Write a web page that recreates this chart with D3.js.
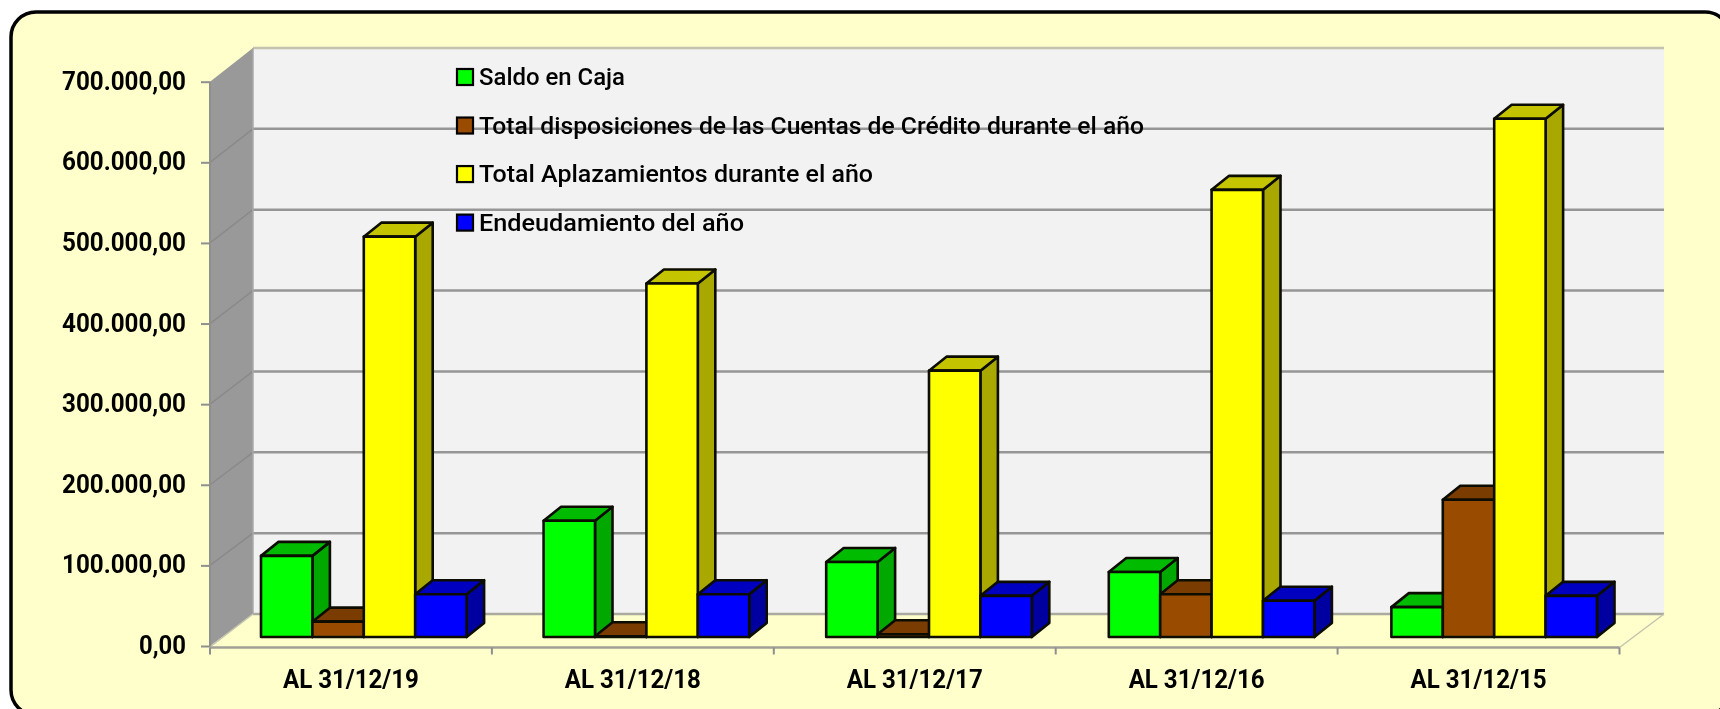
<!DOCTYPE html>
<html lang="es">
<head>
<meta charset="utf-8">
<script src="https://cdn.jsdelivr.net/npm/d3@7/dist/d3.min.js"></script>
<style>
html,body{margin:0;padding:0;background:#fff;overflow:hidden}
svg{display:block;filter:blur(0.5px)}
text{font-family:Roboto,"Noto Sans",sans-serif;fill:#000}
</style>
</head>
<body>
<svg id="chart" width="1720" height="709"></svg>
<script>
const categories = ["AL 31/12/19","AL 31/12/18","AL 31/12/17","AL 31/12/16","AL 31/12/15"];
const seriesNames = ["Saldo en Caja","Total disposiciones de las Cuentas de Crédito durante el año","Total Aplazamientos durante el año","Endeudamiento del año"];
const saldoCaja = [100500,144000,93000,80500,37000];
const disposiciones = [19000,1000,3500,53000,170000];
const aplazamientos = [496000,438000,330000,554000,642000];
const endeudamiento = [53000,53000,51000,45000,51000];
const yTicks = [0,100000,200000,300000,400000,500000,600000,700000];
const front = ["#00ff00","#994c00","#ffff00","#0000ff"];
const topC = ["#00bb00","#7a3c00","#c4c400","#0000c0"];
const sideC = ["#00a800","#6e3600","#a8a800","#0000a0"];

const series = [saldoCaja,disposiciones,aplazamientos,endeudamiento];
const svg = d3.select("#chart");
const frameFill = "#ffffcc";
svg.append("rect").attr("x",11).attr("y",12).attr("width",1719).attr("height",703).attr("rx",25)
  .attr("fill",frameFill).attr("stroke","#000").attr("stroke-width",3.5);

// Planes
const yFront = d3.scaleLinear().domain([0,700000]).range([646,81.7]);
const yBack = d3.scaleLinear().domain([0,700000]).range([614,48]);
const yBar = d3.scaleLinear().domain([0,700000]).range([637,72]);
const xAxisScale = d3.scaleBand().domain(categories).range([210,1619.5]);
const xBars = d3.scaleBand().domain(categories).range([261,261+5*282.6]);
const barW = d3.scaleBand().domain(d3.range(4)).range([0,205.6]);
const wallDx = 43, barDx = 17.5, barDy = 14;
const poly = pts => pts.map(p=>p.join(",")).join(" ");
const [xL,xR] = xAxisScale.range();

svg.append("polygon").attr("fill","#f2f2f2")
  .attr("points",poly([[xL+wallDx,yBack(700000)],[1664,yBack(700000)],[1664,yBack(0)],[xL+wallDx,yBack(0)]]));
svg.append("polygon").attr("fill","#999999")
  .attr("points",poly([[xL,yFront(700000)],[xL+wallDx,yBack(700000)],[xL+wallDx,yBack(0)],[xL,yFront(0)]]));
svg.append("polygon").attr("fill",frameFill)
  .attr("points",poly([[xL,yFront(0)+1.5],[xL+wallDx,yBack(0)],[1664,yBack(0)],[xR,yFront(0)+1.5]]));

// Gridlines on the back wall and left wall
const grid = svg.append("g");
grid.selectAll("line.back").data(yTicks).join("line").attr("class","back")
  .attr("x1",xL+wallDx).attr("x2",1664).attr("y1",d=>yBack(d)).attr("y2",d=>yBack(d))
  .attr("stroke",d=>d===700000?"#c4c4ae":d===0?"#aaaaa0":"#969696").attr("stroke-width",2.5);
grid.selectAll("line.side").data(yTicks.filter(d=>d>0&&d<700000)).join("line").attr("class","side")
  .attr("x1",xL).attr("x2",xL+wallDx).attr("y1",d=>yFront(d)).attr("y2",d=>yBack(d))
  .attr("stroke","#8a8a8a").attr("stroke-width",1.5);
svg.append("line").attr("x1",xL+wallDx).attr("x2",xL+wallDx).attr("y1",yBack(700000)).attr("y2",yBack(0))
  .attr("stroke","#aaaaaa").attr("stroke-width",1.5);
svg.append("line").attr("x1",xL).attr("x2",xL+wallDx).attr("y1",yFront(0)+1).attr("y2",yBack(0))
  .attr("stroke","#c4c4ae").attr("stroke-width",1.5);
svg.append("line").attr("x1",xR).attr("x2",1664).attr("y1",yFront(0)+1.5).attr("y2",yBack(0))
  .attr("stroke","#c4c4ae").attr("stroke-width",1.5);

// Y axis
const fmt = d3.formatLocale({decimal:",",thousands:".",grouping:[3],currency:["","€"]}).format(",.2f");
const yAxis = svg.append("g").attr("transform",`translate(${xL},0)`)
  .call(d3.axisLeft(yFront).tickValues(yTicks).tickFormat(fmt).tickSize(9).tickPadding(15));
yAxis.select(".domain").attr("stroke","#8f8f8f").attr("stroke-width",2).attr("d",`M0,${yFront(700000)}V${yFront(0)}`);
yAxis.selectAll(".tick line").attr("stroke","#8f8f8f").attr("stroke-width",2);
yAxis.selectAll(".tick text").attr("dy","7.5px")
  .attr("textLength",d=>d===0?47:124).attr("lengthAdjust","spacingAndGlyphs")
  .style("font-size","25px").style("font-weight",700);

// X axis
const xAxis = svg.append("g").attr("transform",`translate(0,${yFront(0)+1.5})`)
  .call(d3.axisBottom(xAxisScale).tickSize(0).tickPadding(25));
xAxis.select(".domain").attr("stroke","#a0a098").attr("stroke-width",2.5).attr("d",`M${xL},0H${xR}`);
xAxis.selectAll(".tick text").attr("dy","15.5px")
  .attr("textLength",136).attr("lengthAdjust","spacingAndGlyphs")
  .style("font-size","25px").style("font-weight",700);
xAxis.selectAll("line.boundary").data(d3.range(categories.length+1)).join("line").attr("class","boundary")
  .attr("x1",i=>xL+i*xAxisScale.step()).attr("x2",i=>xL+i*xAxisScale.step()).attr("y1",0).attr("y2",7)
  .attr("stroke","#8f8f8f").attr("stroke-width",2);

// 3D bars
const bars = svg.append("g").attr("stroke","#0c0c00").attr("stroke-width",2.6).attr("stroke-linejoin","round");
categories.forEach((c,ci)=>{
  series.forEach((vals,si)=>{
    const x0 = xBars(c)+barW(si), x1 = x0+barW.bandwidth();
    const t = yBar(vals[ci]), b = yBar(0);
    const g = bars.append("g");
    g.append("polygon").attr("fill",sideC[si])
      .attr("points",poly([[x1,t],[x1+barDx,t-barDy],[x1+barDx,b-barDy],[x1,b]]));
    g.append("polygon").attr("fill",topC[si])
      .attr("points",poly([[x0,t],[x0+barDx,t-barDy],[x1+barDx,t-barDy],[x1,t]]));
    g.append("rect").attr("x",x0).attr("y",t).attr("width",x1-x0).attr("height",Math.max(0,b-t)).attr("fill",front[si]);
  });
});

// Legend
const legendTextWidths = [146,665,394,265];
const legendY = d3.scalePoint().domain(seriesNames).range([77,222.6]);
const legend = svg.append("g");
const items = legend.selectAll("g").data(seriesNames).join("g").attr("transform",d=>`translate(457,${legendY(d)})`);
items.append("rect").attr("x",0).attr("y",-8).attr("width",16).attr("height",16)
  .attr("fill",(d,i)=>front[i]).attr("stroke","#000").attr("stroke-width",2.2);
items.append("text").attr("x",22).attr("y",8).text(d=>d)
  .attr("textLength",(d,i)=>legendTextWidths[i]).attr("lengthAdjust","spacingAndGlyphs")
  .style("font-size","24.5px").style("font-weight",500);
</script>
</body>
</html>
